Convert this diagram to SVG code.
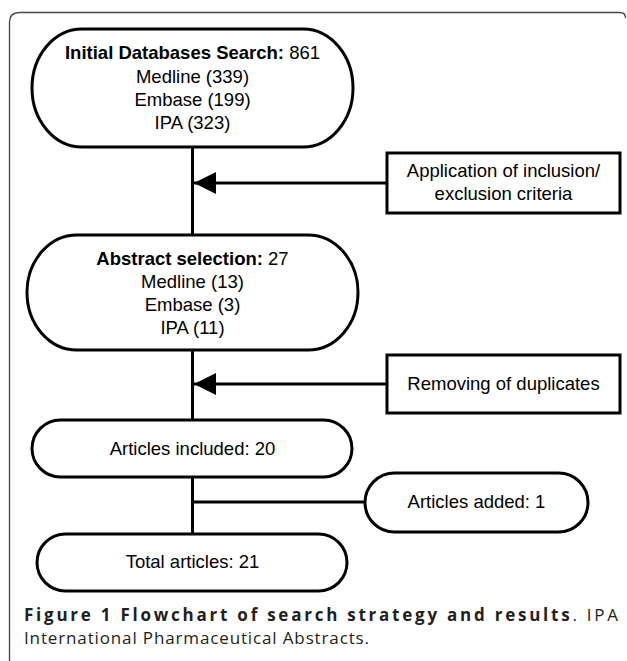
<svg xmlns="http://www.w3.org/2000/svg" width="627" height="661" viewBox="0 0 627 661">
<defs>
<style>
.node{fill:#fff;stroke:#000;stroke-width:3}
.conn{fill:none;stroke:#000;stroke-width:3}
.t{font-family:"Liberation Sans",Arial,sans-serif;font-size:18.5px;fill:#000;text-anchor:middle}
.b{font-weight:bold}
.cap{font-family:"Open Sans","Noto Sans",sans-serif;font-size:17px;fill:#231f20}
</style>
<marker id="ah" markerUnits="userSpaceOnUse" markerWidth="22" markerHeight="22" refX="22" refY="11" orient="auto">
<path d="M0,0 L22,11 L0,22 z" fill="#000"/>
</marker>
</defs>
<rect width="627" height="661" fill="#fff"/>
<path d="M9.5,661 V22 Q9.5,12.5 19.5,12.5 H620 Q625.5,12.5 625.5,18" fill="none" stroke="#444" stroke-width="1.3"/>
<g id="connectors">
<line class="conn" x1="192.5" y1="147" x2="192.5" y2="235"/>
<line class="conn" x1="192.5" y1="350" x2="192.5" y2="420"/>
<line class="conn" x1="192.5" y1="477" x2="192.5" y2="534"/>
<line class="conn" x1="192.5" y1="502" x2="365" y2="502"/>
<line class="conn" x1="387" y1="183" x2="194" y2="183" marker-end="url(#ah)"/>
<line class="conn" x1="387" y1="384" x2="194" y2="384" marker-end="url(#ah)"/>
</g>
<g id="initial-search">
<rect class="node" x="32" y="29" width="321" height="118" rx="50" ry="59"/>
<text class="t" x="192.5" y="59"><tspan class="b">Initial Databases Search:</tspan> 861</text>
<text class="t" x="192.5" y="83">Medline (339)</text>
<text class="t" x="192.5" y="106">Embase (199)</text>
<text class="t" x="192.5" y="129">IPA (323)</text>
</g>
<g id="criteria">
<rect class="node" x="387" y="153" width="233" height="60"/>
<text class="t" x="503.5" y="177">Application of inclusion/</text>
<text class="t" x="503.5" y="200">exclusion criteria</text>
</g>
<g id="abstract-selection">
<rect class="node" x="27" y="235" width="331" height="115" rx="50" ry="57.5"/>
<text class="t" x="192.5" y="265"><tspan class="b">Abstract selection:</tspan> 27</text>
<text class="t" x="192.5" y="288">Medline (13)</text>
<text class="t" x="192.5" y="311">Embase (3)</text>
<text class="t" x="192.5" y="334">IPA (11)</text>
</g>
<g id="duplicates">
<rect class="node" x="387" y="355" width="233" height="58"/>
<text class="t" x="503.5" y="390">Removing of duplicates</text>
</g>
<g id="articles-included">
<rect class="node" x="32" y="420" width="320" height="57" rx="28.5"/>
<text class="t" x="192.5" y="455">Articles included: 20</text>
</g>
<g id="articles-added">
<rect class="node" x="365" y="473" width="223" height="59" rx="29.5"/>
<text class="t" x="476.5" y="508">Articles added: 1</text>
</g>
<g id="total-articles">
<rect class="node" x="37" y="534" width="310" height="57" rx="28.5"/>
<text class="t" x="192.5" y="568">Total articles: 21</text>
</g>
<g id="caption">
<text class="cap" x="24" y="621" textLength="594" lengthAdjust="spacing"><tspan font-weight="bold">Figure 1 Flowchart of search strategy and results</tspan>. IPA</text>
<text class="cap" x="24" y="644" textLength="345" lengthAdjust="spacing">International Pharmaceutical Abstracts.</text>
</g>
</svg>
